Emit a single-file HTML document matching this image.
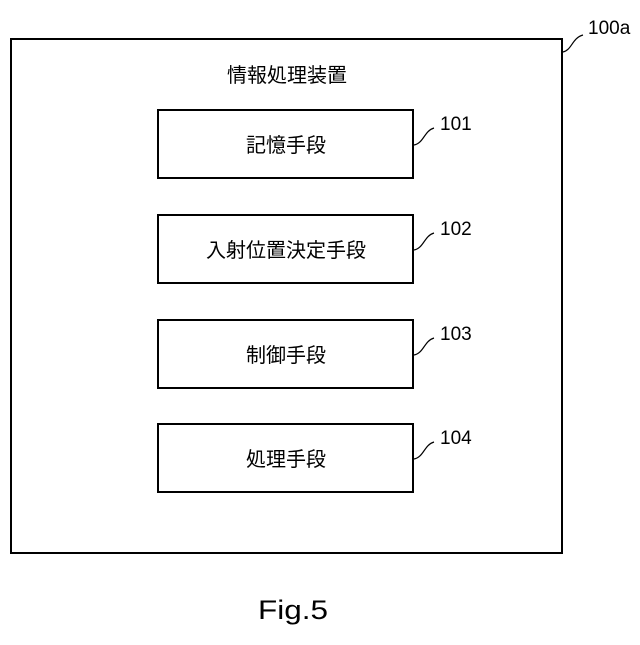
<!DOCTYPE html>
<html><head><meta charset="utf-8"><style>
body{margin:0;background:#fff;}
svg text{font-family:"Liberation Sans","Noto Sans CJK JP",sans-serif;fill:#000;}
</style></head><body>
<svg width="640" height="640" viewBox="0 0 640 640" xmlns="http://www.w3.org/2000/svg">
<rect x="11" y="39" width="551" height="514" fill="none" stroke="#000" stroke-width="2"/>
<path d="M563,52 C572,50 572,38 583,35" fill="none" stroke="#000" stroke-width="1.2"/>
<text x="588" y="34" font-size="19">100a</text>
<text x="287" y="82" font-size="20" text-anchor="middle">情報処理装置</text>
<g fill="none" stroke="#000" stroke-width="2">
<rect x="158" y="110" width="255" height="68"/>
<rect x="158" y="215" width="255" height="68"/>
<rect x="158" y="320" width="255" height="68"/>
<rect x="158" y="424" width="255" height="68"/>
</g>
<g fill="none" stroke="#000" stroke-width="1.2">
<path d="M414,145 C424,143 424,131 434,128"/>
<path d="M414,250 C424,248 424,236 434,233"/>
<path d="M414,355 C424,353 424,341 434,338"/>
<path d="M414,459 C424,457 424,445 434,442"/>
</g>
<g font-size="19">
<text x="440" y="130">101</text>
<text x="440" y="235">102</text>
<text x="440" y="340">103</text>
<text x="440" y="444">104</text>
</g>
<g font-size="20" text-anchor="middle">
<text x="286" y="152">記憶手段</text>
<text x="286" y="257">入射位置決定手段</text>
<text x="286" y="362">制御手段</text>
<text x="286" y="466">処理手段</text>
</g>
<text x="258" y="619" font-size="27" textLength="70" lengthAdjust="spacingAndGlyphs">Fig.5</text>
</svg>
</body></html>
